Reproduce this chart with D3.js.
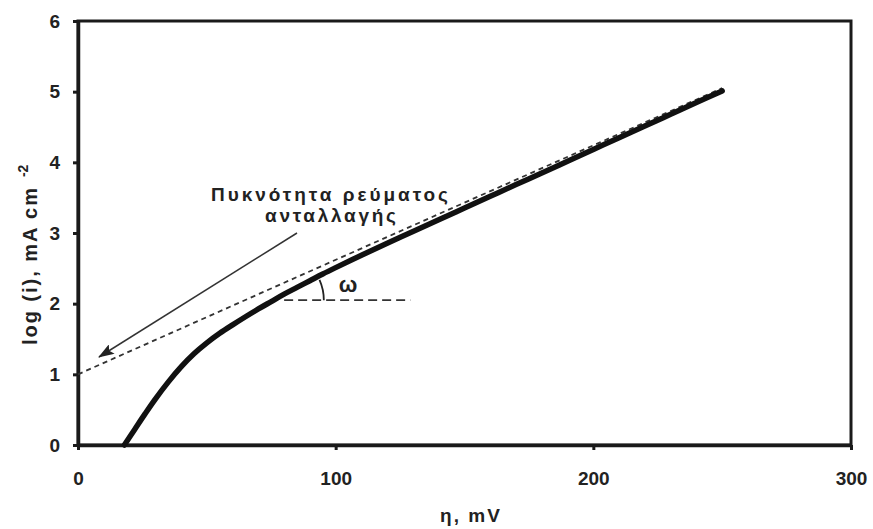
<!DOCTYPE html>
<html>
<head>
<meta charset="utf-8">
<script src="https://cdn.jsdelivr.net/npm/d3@7"></script>
<style>
  html, body { margin: 0; padding: 0; background: #fff; }
  svg { display: block; }
  text { font-family: "Liberation Sans", Arial, sans-serif; fill: #222; }
</style>
</head>
<body>
<svg id="chart" width="873" height="529"></svg>
<script>
// ---- data ----
const eta = [18, 22, 26, 30, 35, 40, 45, 50, 55, 60, 65, 70, 75, 80, 85, 90, 95, 100,
             110, 120, 130, 140, 150, 160, 170, 180, 190, 200, 210, 220, 230, 240, 250];
const logI = [0, 0.22, 0.44, 0.65, 0.89, 1.105, 1.29, 1.445, 1.58, 1.70, 1.815, 1.925, 2.03, 2.135, 2.23, 2.325, 2.42, 2.51,
              2.685, 2.855, 3.02, 3.187, 3.353, 3.519, 3.685, 3.85, 4.016, 4.182, 4.348, 4.513, 4.679, 4.845, 5.01];
const tangentEta = [0, 250];
const tangentLog = [1.0, 5.05];
const horizEta = [80, 129];
const horizLog = [2.05, 2.05];
const xTicks = [0, 100, 200, 300];
const yTicks = [0, 1, 2, 3, 4, 5, 6];
const annotationLines = ["Πυκνότητα ρεύματος", "ανταλλαγής"];
const angleLabel = "ω";
const xTitle = "η, mV";
const yTitle = "log (i), mA cm";
const yTitleSup = "-2";

// ---- layout ----
const svg = d3.select("#chart");
const x = d3.scaleLinear().domain([0, 300]).range([78, 851]);
const y = d3.scaleLinear().domain([0, 6]).range([445, 21]);
const ink = "#1a1a1a";
const font = "'Liberation Sans', Arial, sans-serif";

// frame
svg.append("rect")
  .attr("x", x(0)).attr("y", y(6))
  .attr("width", x(300) - x(0)).attr("height", y(0) - y(6))
  .attr("fill", "none").attr("stroke", ink).attr("stroke-width", 3);

// axes
const xAxis = svg.append("g").attr("transform", `translate(0,${y(0)})`)
  .call(d3.axisBottom(x).tickValues(xTicks).tickSize(5).tickSizeOuter(0).tickPadding(22).tickFormat(d3.format("d")));
const yAxis = svg.append("g").attr("transform", `translate(${x(0)},0)`)
  .call(d3.axisLeft(y).tickValues(yTicks).tickSize(5).tickSizeOuter(0).tickPadding(13).tickFormat(d3.format("d")));
[xAxis, yAxis].forEach(g => {
  g.select(".domain").attr("stroke", ink).attr("stroke-width", 3.5);
  g.selectAll(".tick line").attr("stroke", ink).attr("stroke-width", 3);
  g.selectAll(".tick text").attr("fill", "#222").style("font-size", "19px").style("font-weight", "bold")
    .style("font-family", font);
});

// tangent dashed line
const line = d3.line().x(d => x(d[0])).y(d => y(d[1]));
svg.append("path")
  .datum(d3.zip(tangentEta, tangentLog))
  .attr("d", line).attr("fill", "none").attr("stroke", "#333")
  .attr("stroke-width", 1.8).attr("stroke-dasharray", "5,4");

// horizontal dashed reference
svg.append("path")
  .datum(d3.zip(horizEta, horizLog))
  .attr("d", line).attr("fill", "none").attr("stroke", "#333")
  .attr("stroke-width", 1.8).attr("stroke-dasharray", "9,5");

// main curve
svg.append("path")
  .datum(d3.zip(eta, logI))
  .attr("d", d3.line().x(d => x(d[0])).y(d => y(d[1])).curve(d3.curveCatmullRom))
  .attr("fill", "none").attr("stroke", "#111").attr("stroke-width", 5.5)
  .attr("stroke-linecap", "round");

// angle arc
const cx = x(76), cy = y(2.05), r = 50;
const slopePx = (y(tangentLog[0]) - y(tangentLog[1])) / (x(tangentEta[1]) - x(tangentEta[0]));
const ang = Math.atan(slopePx);
svg.append("path")
  .attr("d", `M${cx + r},${cy} A${r},${r} 0 0 0 ${cx + r * Math.cos(ang)},${cy - r * Math.sin(ang)}`)
  .attr("fill", "none").attr("stroke", "#222").attr("stroke-width", 1.8);
svg.append("text").attr("x", 348).attr("y", 292).attr("text-anchor", "middle")
  .style("font-size", "22px").style("font-weight", "bold").text(angleLabel);

// annotation
svg.append("text").attr("x", 211).attr("y", 201)
  .attr("textLength", 237).attr("lengthAdjust", "spacing")
  .style("font-size", "19px").style("font-weight", "bold").text(annotationLines[0]);
svg.append("text").attr("x", 265).attr("y", 222)
  .attr("textLength", 131).attr("lengthAdjust", "spacing")
  .style("font-size", "19px").style("font-weight", "bold").text(annotationLines[1]);

// arrow
svg.append("defs").append("marker")
  .attr("id", "arrow").attr("viewBox", "0 0 16 11").attr("refX", 15).attr("refY", 5.5)
  .attr("markerWidth", 16).attr("markerHeight", 11).attr("markerUnits", "userSpaceOnUse")
  .attr("orient", "auto")
  .append("path").attr("d", "M0,0 L16,5.5 L0,11 L3,5.5 z").attr("fill", "#222");
svg.append("line")
  .attr("x1", 297).attr("y1", 233).attr("x2", 99).attr("y2", 357)
  .attr("stroke", "#333").attr("stroke-width", 1.5)
  .attr("marker-end", "url(#arrow)");

// axis titles
svg.append("text").attr("x", 470).attr("y", 522).attr("text-anchor", "middle")
  .attr("textLength", 60).attr("lengthAdjust", "spacing")
  .style("font-size", "19px").style("font-weight", "bold").text(xTitle);
const yt = svg.append("text").attr("transform", `translate(37,345) rotate(-90)`)
  .attr("text-anchor", "start")
  .style("font-size", "20px").style("font-weight", "bold");
yt.append("tspan").attr("textLength", 157).attr("lengthAdjust", "spacing").text(yTitle);
yt.append("tspan").attr("dx", 9).attr("dy", -9).style("font-size", "14px").text(yTitleSup);
</script>
</body>
</html>
